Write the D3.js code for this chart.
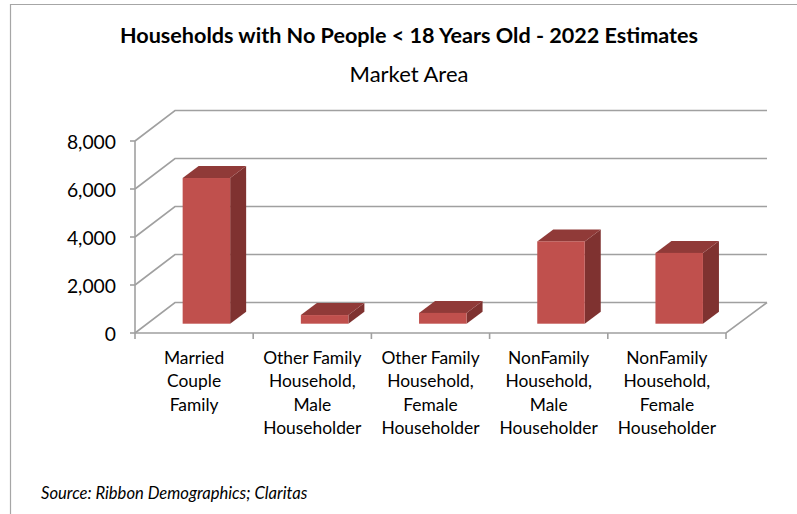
<!DOCTYPE html>
<html><head><meta charset="utf-8">
<script src="https://cdn.jsdelivr.net/npm/d3@7"></script>
<style>html,body{margin:0;padding:0;background:#fff}svg{display:block}text{font-family:Lato,"Open Sans",sans-serif;fill:#000}</style>
</head><body><svg id="c" width="797" height="514"></svg>
<script>
const categories = [
  ["Married","Couple","Family"],
  ["Other Family","Household,","Male","Householder"],
  ["Other Family","Household,","Female","Householder"],
  ["NonFamily","Household,","Male","Householder"],
  ["NonFamily","Household,","Female","Householder"]];
const values = [6070, 360, 450, 3430, 2950];
const yTicks = [0, 2000, 4000, 6000, 8000];
const titleText = "Households with No People < 18 Years Old - 2022 Estimates";
const subtitleText = "Market Area";
const sourceText = "Source: Ribbon Demographics; Claritas";

const svg = d3.select("#c");
const y = d3.scaleLinear().domain([0, 8000]).range([333, 141]);
const x = d3.scaleBand().domain(d3.range(categories.length)).range([135, 726]).paddingInner(0).paddingOuter(0);
const wall = {dx: 40, dy: -30.5};
const grid = "#a0a0a0";

svg.append("path").attr("d","M10.5,514V4.5H797").attr("fill","none").attr("stroke","#a6a6a6").attr("stroke-width",1.2);

// walls
const gw = svg.append("g").attr("fill","none").attr("stroke",grid).attr("stroke-width",1.6);
yTicks.forEach(t=>{
  gw.append("path").attr("d",d3.line()([[135,y(t)],[135+wall.dx,y(t)+wall.dy],[767,y(t)+wall.dy]]));
});
gw.append("path").attr("d",d3.line()([[135,y(0)],[135,y(8000)]]));
gw.append("path").attr("d",d3.line()([[135,y(0)],[726,y(0)],[767,y(0)+wall.dy]]));
yTicks.forEach(t=>gw.append("path").attr("d",d3.line()([[130,y(t)],[135,y(t)]])));
d3.range(categories.length+1).forEach(i=>{
  const px = i<categories.length ? x(i) : 726;
  gw.append("path").attr("d",d3.line()([[px,333],[px,339]]));
});

// bars
const bw = 47.5, d = {x:16,y:-12}, baseY = 323.7, bh = v => y(0)-y(v);
const bars = svg.append("g").selectAll("g").data(values).join("g");
const bx = (v,i)=>x(i)+x.bandwidth()/2-bw/2+12.3;
bars.append("path").attr("fill","#7f3230").attr("d",(v,i)=>{const l=bx(v,i)+bw,t=baseY-bh(v);
  return d3.line()([[l,baseY],[l+d.x,baseY+d.y],[l+d.x,t+d.y],[l,t]])+"Z";});
bars.append("path").attr("fill","#903a38").attr("d",(v,i)=>{const l=bx(v,i),t=baseY-bh(v);
  return d3.line()([[l,t],[l+d.x,t+d.y],[l+bw+d.x,t+d.y],[l+bw,t]])+"Z";});
bars.append("rect").attr("fill","#c0504d").attr("x",bx).attr("y",v=>baseY-bh(v)).attr("width",bw).attr("height",v=>bh(v));

// labels
svg.append("g").selectAll("text").data(yTicks).join("text")
  .attr("x",116).attr("y",t=>y(t)+8).attr("text-anchor","end").attr("font-size",19.3)
  .text(d3.format(","));
const cat = svg.append("g").selectAll("text").data(categories).join("text")
  .attr("text-anchor","middle").attr("font-size",17.4);
cat.selectAll("tspan").data((c,i)=>c.map(s=>({s,i}))).join("tspan")
  .attr("x",e=>x(e.i)+x.bandwidth()/2).attr("y",(e,j)=>364+j*23.4).text(e=>e.s);

svg.append("text").attr("x",409).attr("y",43).attr("text-anchor","middle").attr("font-size",21.6).attr("font-weight",700).text(titleText);
svg.append("text").attr("x",409).attr("y",82).attr("text-anchor","middle").attr("font-size",22).text(subtitleText);
svg.append("text").attr("x",41).attr("y",499).attr("font-size",16.6).attr("font-style","italic").text(sourceText);
</script></body></html>
